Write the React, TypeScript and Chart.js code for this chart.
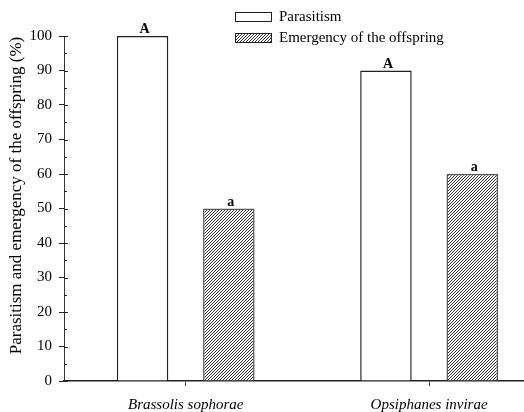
import React, { useEffect, useRef } from "react";
import { Chart, registerables } from "chart.js";

Chart.register(...registerables);

const categories = ["Brassolis sophorae", "Opsiphanes invirae"];
const categoryPositions = [1, 2];
const parasitism = [100, 90];
const emergence = [50, 60];
const parasitismLetters = ["A", "A"];
const emergenceLetters = ["a", "a"];
const seriesNames = ["Parasitism", "Emergency of the offspring"];
const yTicks = [0, 10, 20, 30, 40, 50, 60, 70, 80, 90, 100];
const yTitle = "Parasitism and emergency of the offspring (%)";

const SERIF = "'Liberation Serif', 'Times New Roman', serif";

function makeHatch(): CanvasPattern | string {
  const c = document.createElement("canvas");
  c.width = 3;
  c.height = 3;
  const g = c.getContext("2d");
  if (!g) return "#888";
  g.fillStyle = "#ffffff";
  g.fillRect(0, 0, 3, 3);
  g.fillStyle = "#333333";
  for (let i = 0; i < 3; i++) g.fillRect(i, 2 - i, 1, 1);
  const p = g.createPattern(c, "repeat");
  return p || "#888";
}

export default function App() {
  const ref = useRef<HTMLCanvasElement | null>(null);

  useEffect(() => {
    document.body.style.margin = "0";
    const canvas = ref.current;
    if (!canvas) return;
    const hatch = makeHatch();

    const decor = {
      id: "decor",
      afterDraw(chart: any) {
        const ctx = chart.ctx;
        const y = chart.scales.y;
        const area = chart.chartArea;
        ctx.save();
        // inner parts of y ticks (major + minor)
        ctx.strokeStyle = "#222";
        ctx.lineWidth = 1;
        for (let v = 0; v <= 100; v += 5) {
          const py = Math.round(y.getPixelForValue(v)) + 0.5;
          const len = v % 10 === 0 ? 4 : 3;
          ctx.beginPath();
          ctx.moveTo(area.left, py);
          ctx.lineTo(area.left + len, py);
          ctx.stroke();
        }
        // y-axis title
        ctx.save();
        ctx.translate(17, (area.top + area.bottom) / 2 - 13);
        ctx.rotate(-Math.PI / 2);
        ctx.fillStyle = "#000";
        ctx.font = `17px ${SERIF}`;
        ctx.textAlign = "center";
        ctx.textBaseline = "middle";
        ctx.fillText(yTitle, 0, 0);
        ctx.restore();
        // significance letters
        ctx.fillStyle = "#000";
        ctx.font = `bold 14px ${SERIF}`;
        ctx.textAlign = "center";
        ctx.textBaseline = "alphabetic";
        const letterSets = [parasitismLetters, emergenceLetters];
        letterSets.forEach((letters, di) => {
          const meta = chart.getDatasetMeta(di);
          meta.data.forEach((bar: any, i: number) => {
            ctx.fillText(letters[i], bar.x + 2, bar.y - 3);
          });
        });
        // legend
        const lx = area.left + 171;
        const rows = [16.5, 37];
        ctx.font = `15px ${SERIF}`;
        ctx.textAlign = "left";
        ctx.textBaseline = "middle";
        rows.forEach((ry, i) => {
          const bx = lx;
          const by = Math.round(ry - 4.5);
          ctx.fillStyle = i === 0 ? "#ffffff" : (hatch as any);
          ctx.fillRect(bx, by, 36, 9);
          ctx.strokeStyle = "#222";
          ctx.lineWidth = 1;
          ctx.strokeRect(bx + 0.5, by + 0.5, 36, 9);
          ctx.fillStyle = "#000";
          ctx.fillText(seriesNames[i], bx + 44, ry + 1);
        });
        ctx.restore();
      },
    };

    const chart = new Chart(canvas, {
      type: "bar",
      data: {
        datasets: [
          {
            label: seriesNames[0],
            data: categoryPositions.map((x, i) => ({ x, y: parasitism[i] })),
            backgroundColor: "#ffffff",
            borderColor: "#222222",
            borderWidth: 1.5,
          },
          {
            label: seriesNames[1],
            data: categoryPositions.map((x, i) => ({ x, y: emergence[i] })),
            backgroundColor: hatch as any,
            borderColor: "#555555",
            borderWidth: 1.5,
          },
        ],
      },
      options: {
        responsive: false,
        animation: false,
        categoryPercentage: 0.709,
        barPercentage: 0.597,
        layout: { padding: { top: 36, right: 0, left: 0, bottom: 0 } },
        plugins: {
          legend: { display: false },
          tooltip: { enabled: false },
        },
        scales: {
          x: {
            type: "linear",
            offset: false,
            min: 0.5,
            max: 2.39,
            afterBuildTicks(scale: any) {
              scale.ticks = categoryPositions.map((v) => ({ value: v }));
            },
            afterFit(scale: any) {
              scale.height = 31;
            },
            ticks: {
              autoSkip: false,
              maxRotation: 0,
              padding: 10,
              color: "#000",
              font: { family: SERIF, size: 15, style: "italic" },
              callback: (value: any) => {
                const idx = categoryPositions.indexOf(Number(value));
                return idx >= 0 ? categories[idx] : "";
              },
            },
            grid: {
              offset: false,
              drawOnChartArea: false,
              tickLength: 5,
              tickColor: "#444",
            },
            border: { display: true, color: "#222", width: 1.5 },
          },
          y: {
            min: 0,
            max: 100,
            afterBuildTicks(scale: any) {
              scale.ticks = yTicks.map((v) => ({ value: v }));
            },
            afterFit(scale: any) {
              scale.width = 64;
            },
            ticks: {
              padding: 7,
              color: "#000",
              font: { family: SERIF, size: 15 },
            },
            grid: {
              drawOnChartArea: false,
              tickLength: 5,
              tickColor: "#222",
            },
            border: { display: true, color: "#333", width: 1 },
            title: { display: false },
          },
        },
      },
      plugins: [decor],
    });

    return () => chart.destroy();
  }, []);

  return (
    <div style={{ width: 524, height: 412 }}>
      <canvas ref={ref} width={524} height={412} style={{ display: "block" }} />
    </div>
  );
}
